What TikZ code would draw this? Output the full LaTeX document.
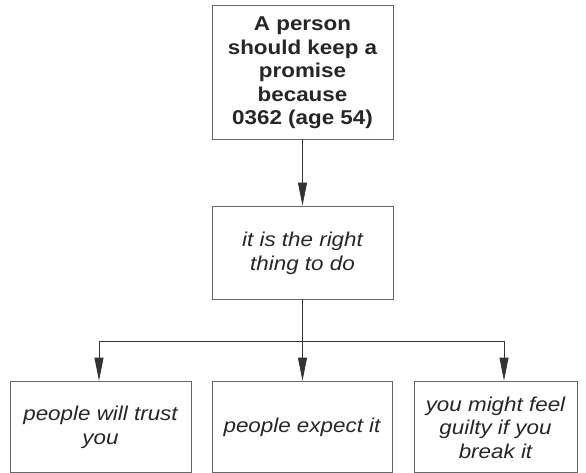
\documentclass[tikz,border=0pt]{standalone}
\usepackage{fontspec}
\setmainfont{Liberation Sans}[FakeStretch=1.12]
\usetikzlibrary{arrows.meta}
\definecolor{boxGray}{gray}{0.4}
\definecolor{lineGray}{gray}{0.2}
\definecolor{textGray}{gray}{0.15}
\tikzset{
  reason/.style={draw=boxGray, line width=0.8pt, minimum width=181pt, inner sep=0pt},
  reasontext/.style={text=textGray, align=center, yshift=-1pt, font=\fontsize{20}{23.5}\selectfont\itshape},
  link/.style={-{Triangle[length=23pt,width=9pt]}, line width=0.8pt, lineGray},
}

\begin{document}
\begin{tikzpicture}[x=1pt,y=-1pt]
  \useasboundingbox (0,0) rectangle (586,473);
  % question and first reason
  \node[reason, minimum height=134pt, label={[reasontext, font=\fontsize{20}{23.5}\selectfont\bfseries]center:{A person\\should keep a\\promise\\because\\0362 (age 54)}}] (question) at (302.5,72) {};
  \node[reason, minimum height=93pt, label={[reasontext]center:{it is the right\\thing to do}}] (right) at (302.5,252.5) {};
  % consequences
  \node[reason, minimum height=91pt, label={[reasontext]center:{people will trust\\you}}] (trust) at (100.5,426.5) {};
  \node[reason, minimum height=91pt, minimum width=180pt, label={[reasontext]center:{people expect it}}] (expect) at (302,426.5) {};
  \node[reason, minimum height=91pt, minimum width=163pt, label={[reasontext]center:{you might feel\\guilty if you\\break it}}] (guilty) at (495.5,426.5) {};
  \coordinate (fork) at (right.south |- 0,341);
  \coordinate (forkL) at (99,341);
  \coordinate (forkR) at (504,341);
  \draw[link] (question) -- (right);
  \draw[line width=0.8pt, lineGray] (right.south) -- (fork);
  \draw[line width=0.8pt, lineGray] (forkL) -- (forkR);
  \draw[link] (forkL) -- (forkL |- trust.north);
  \draw[link] (fork) -- (fork |- expect.north);
  \draw[link] (forkR) -- (forkR |- guilty.north);
\end{tikzpicture}
\end{document}
